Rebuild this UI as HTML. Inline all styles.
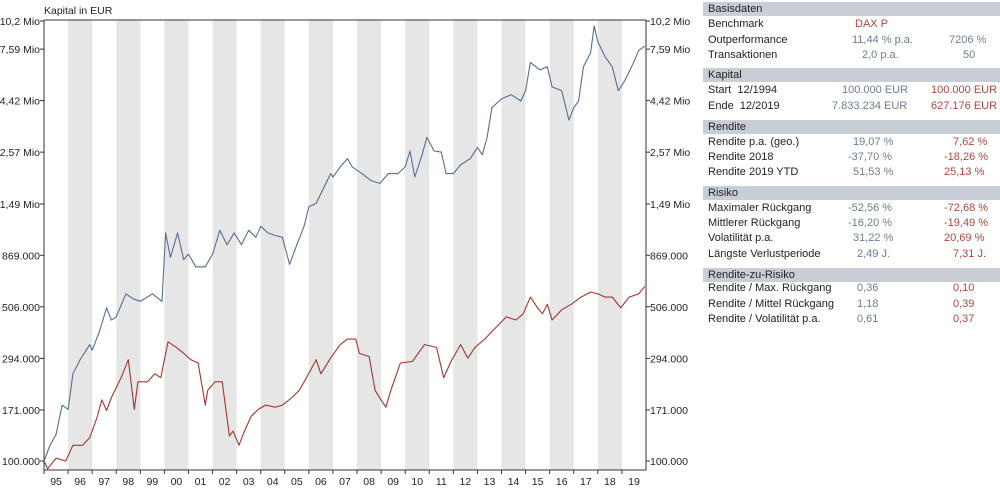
<!DOCTYPE html>
<html><head><meta charset="utf-8">
<style>
body{margin:0;width:1000px;height:489px;background:#fff;font-family:"Liberation Sans",sans-serif;position:relative;overflow:hidden}
.t{position:absolute;font-size:11px;color:#222;white-space:nowrap;line-height:14px}
.h{position:absolute;left:703px;width:297px;height:14px;background:#c9ced6;font-size:11px;line-height:14px;padding-left:5px;box-sizing:border-box;color:#222}
.m{color:#6d7d92}.r{color:#b0463d}
</style></head><body>
<svg id="chart" width="700" height="489" style="position:absolute;left:0;top:0" font-family="Liberation Sans, sans-serif" font-size="10.5"></svg>
<div>
<div class="h" style="top:2px">Basisdaten</div>
<div class="t" style="left:708px;top:17px">Benchmark</div>
<div class="t r" style="left:855px;top:17px">DAX P</div>
<div class="t" style="left:708px;top:33px">Outperformance</div>
<div class="t m" style="left:852px;top:33px">11,44 % p.a.</div>
<div class="t m" style="left:949px;top:33px">7206 %</div>
<div class="t" style="left:708px;top:48px">Transaktionen</div>
<div class="t m" style="left:862px;top:48px">2,0 p.a.</div>
<div class="t m" style="left:963px;top:48px">50</div>

<div class="h" style="top:68px">Kapital</div>
<div class="t" style="left:708px;top:83px">Start&nbsp; 12/1994</div>
<div class="t m" style="left:842px;top:83px">100.000 EUR</div>
<div class="t r" style="left:931px;top:83px">100.000 EUR</div>
<div class="t" style="left:708px;top:99px">Ende&nbsp; 12/2019</div>
<div class="t m" style="left:832px;top:99px">7.833.234 EUR</div>
<div class="t r" style="left:931px;top:99px">627.176 EUR</div>

<div class="h" style="top:120px">Rendite</div>
<div class="t" style="left:708px;top:135px">Rendite p.a. (geo.)</div>
<div class="t m" style="left:853px;top:135px">19,07 %</div>
<div class="t r" style="left:953px;top:135px">7,62 %</div>
<div class="t" style="left:708px;top:150px">Rendite 2018</div>
<div class="t m" style="left:848px;top:150px">-37,70 %</div>
<div class="t r" style="left:944px;top:150px">-18,26 %</div>
<div class="t" style="left:708px;top:165px">Rendite 2019 YTD</div>
<div class="t m" style="left:853px;top:165px">51,53 %</div>
<div class="t r" style="left:944px;top:165px">25,13 %</div>

<div class="h" style="top:186px">Risiko</div>
<div class="t" style="left:708px;top:201px">Maximaler Rückgang</div>
<div class="t m" style="left:848px;top:201px">-52,56 %</div>
<div class="t r" style="left:944px;top:201px">-72,68 %</div>
<div class="t" style="left:708px;top:216px">Mittlerer Rückgang</div>
<div class="t m" style="left:848px;top:216px">-16,20 %</div>
<div class="t r" style="left:944px;top:216px">-19,49 %</div>
<div class="t" style="left:708px;top:231px">Volatilität p.a.</div>
<div class="t m" style="left:853px;top:231px">31,22 %</div>
<div class="t r" style="left:944px;top:231px">20,69 %</div>
<div class="t" style="left:708px;top:247px">Längste Verlustperiode</div>
<div class="t m" style="left:857px;top:247px">2,49 J.</div>
<div class="t r" style="left:953px;top:247px">7,31 J.</div>

<div class="h" style="top:268px">Rendite-zu-Risiko</div>
<div class="t" style="left:708px;top:281px">Rendite / Max. Rückgang</div>
<div class="t m" style="left:857px;top:281px">0,36</div>
<div class="t r" style="left:953px;top:281px">0,10</div>
<div class="t" style="left:708px;top:297px">Rendite / Mittel Rückgang</div>
<div class="t m" style="left:857px;top:297px">1,18</div>
<div class="t r" style="left:953px;top:297px">0,39</div>
<div class="t" style="left:708px;top:312px">Rendite / Volatilität p.a.</div>
<div class="t m" style="left:857px;top:312px">0,61</div>
<div class="t r" style="left:953px;top:312px">0,37</div>
</div>
<script>
const yTickValues=[100000,171000,294000,506000,869000,1490000,2570000,4420000,7590000,10200000];
const yTickLabels=["100.000","171.000","294.000","506.000","869.000","1,49 Mio","2,57 Mio","4,42 Mio","7,59 Mio","10,2 Mio"];
const yearLabels=["95","96","97","98","99","00","01","02","03","04","05","06","07","08","09","10","11","12","13","14","15","16","17","18","19"];
const strategyTimes=[1995.0,1995.25,1995.5,1995.75,1996.0,1996.2,1996.5,1996.9,1997.0,1997.3,1997.6,1997.8,1998.0,1998.4,1998.7,1999.0,1999.5,1999.9,2000.05,2000.25,2000.55,2000.8,2001.0,2001.3,2001.7,2002.0,2002.3,2002.6,2002.9,2003.2,2003.5,2003.8,2004.0,2004.3,2004.6,2004.9,2005.2,2005.5,2005.8,2006.0,2006.3,2006.6,2006.9,2007.0,2007.3,2007.6,2007.8,2008.2,2008.6,2008.95,2009.3,2009.7,2010.0,2010.2,2010.4,2010.7,2010.9,2011.2,2011.5,2011.7,2012.0,2012.3,2012.7,2013.0,2013.2,2013.4,2013.6,2014.0,2014.4,2014.8,2015.0,2015.2,2015.6,2015.9,2016.1,2016.5,2016.8,2017.0,2017.2,2017.4,2017.7,2017.85,2018.0,2018.3,2018.6,2018.85,2019.1,2019.4,2019.7,2019.95];
const strategyValues=[100,118,132,180,172,250,290,340,320,390,500,440,455,580,550,535,580,535,1100,850,1100,830,880,770,770,880,1130,970,1100,970,1130,1050,1180,1100,1070,1050,790,970,1180,1450,1500,1750,2050,1980,2200,2400,2200,2050,1900,1850,2050,2050,2200,2600,1980,2500,3000,2600,2570,2050,2050,2250,2400,2700,2500,3000,4100,4500,4700,4400,4900,6600,6100,6300,5100,4900,3600,4100,4400,6300,7300,9700,8200,7000,6300,4900,5400,6300,7500,7830];
const benchmarkTimes=[1995.0,1995.15,1995.5,1995.9,1996.2,1996.6,1996.9,1997.2,1997.4,1997.6,1997.8,1998.2,1998.5,1998.75,1998.9,1999.3,1999.6,1999.85,2000.15,2000.5,2000.8,2001.1,2001.4,2001.7,2001.8,2002.1,2002.4,2002.7,2002.85,2003.1,2003.3,2003.6,2003.9,2004.2,2004.6,2004.9,2005.3,2005.6,2005.9,2006.3,2006.5,2006.9,2007.3,2007.6,2007.95,2008.1,2008.5,2008.75,2009.0,2009.2,2009.4,2009.8,2010.3,2010.8,2011.3,2011.6,2011.9,2012.3,2012.6,2012.9,2013.3,2013.7,2014.2,2014.6,2014.9,2015.2,2015.5,2015.7,2015.9,2016.1,2016.5,2016.9,2017.3,2017.7,2018.0,2018.3,2018.6,2018.95,2019.3,2019.7,2019.95];
const benchmarkValues=[100,92,103,100,118,118,128,158,190,170,195,240,290,172,230,230,250,240,350,330,310,290,280,180,210,230,230,130,137,118,135,160,172,180,176,180,195,210,240,290,250,295,340,360,360,310,300,210,190,176,210,280,285,340,330,240,285,340,295,330,360,400,455,440,470,560,500,470,520,440,490,520,560,590,580,560,560,500,560,580,627];

const NS="http://www.w3.org/2000/svg";
const svg=document.getElementById('chart');
const X0=44,X1=646,Y0=21,Y1=461,PT=20,PB=470;
const xs=t=>X0+(t-1995)/25*(X1-X0);
const ys=v=>Y1-Math.log(v/100000)/Math.log(102)*(Y1-Y0);
function mk(tag,attrs){const e=document.createElementNS(NS,tag);for(const k in attrs)e.setAttribute(k,attrs[k]);svg.appendChild(e);return e;}
yearLabels.forEach((l,i)=>{
  if(i%2===1){const r=mk('rect',{x:xs(1995+i),y:PT,width:xs(1996+i)-xs(1995+i),height:PB-PT,fill:'#e6e6e6'});
  
  }
});
let ax=mk('path',{d:`M${X0},${PT}H${X1}M${X0},${PT}V${PB}H${X1}V${PT}`,stroke:'#333',fill:'none','stroke-width':1});


yTickValues.forEach((v,i)=>{
  const y=ys(v);
  mk('line',{x1:X0-4,x2:X0,y1:y,y2:y,stroke:'#333'});
  mk('line',{x1:X1,x2:X1+4,y1:y,y2:y,stroke:'#333'});
  const tl=mk('text',{x:X0-4,y:y+4,'text-anchor':'end',fill:'#222'});tl.textContent=yTickLabels[i];
  
  
  const tr=mk('text',{x:X1+4,y:y+4,fill:'#222'});tr.textContent=yTickLabels[i];
  
  
});
yearLabels.forEach((l,i)=>{
  mk('line',{x1:xs(1995+i),x2:xs(1995+i),y1:PB,y2:PB+4,stroke:'#333'});
  const t=mk('text',{x:xs(1995.5+i),y:485,'text-anchor':'middle',fill:'#222'});t.textContent=l;
  
  
});
const title=mk('text',{x:X0,y:14,fill:'#222'});title.textContent='Kapital in EUR';


function line(ts,vs,col){return mk('polyline',{points:ts.map((t,i)=>xs(t).toFixed(1)+','+ys(vs[i]*1000).toFixed(1)).join(' '),fill:'none',stroke:col,'stroke-width':1.1,'stroke-linejoin':'round'});}
const lb=line(benchmarkTimes,benchmarkValues,'#a3362e');


const ls=line(strategyTimes,strategyValues,'#566f8e');


</script>
</body></html>
